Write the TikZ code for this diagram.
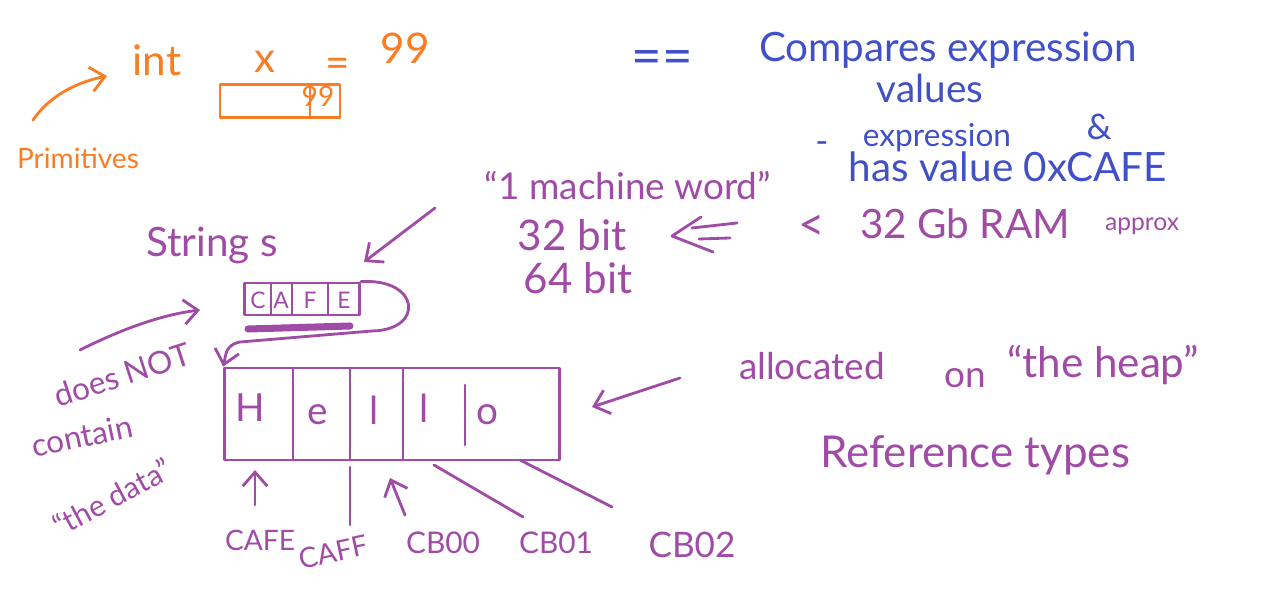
\documentclass[tikz,border=0pt]{standalone}
\usepackage{fontspec}
\setmainfont{Lato}
\usetikzlibrary{arrows.meta}
\definecolor{ora}{RGB}{250,125,35}
\definecolor{blu}{RGB}{64,80,200}
\definecolor{pur}{RGB}{160,75,165}
\begin{document}
\begin{tikzpicture}[x=0.02cm,y=-0.02cm,
  pen/.style={line width=1.6pt,line cap=round,line join=round},
  tip/.style={-{Straight Barb[length=8pt,width=14pt]}},
  txt/.style={inner sep=0pt,font=\fontsize{#1}{#1}\selectfont},
  cell/.style={draw,pen,inner sep=0pt}]
\useasboundingbox (0,0) rectangle (1268,590);
% ---------- orange : primitives ----------
\begin{scope}[ora]
\node[txt=24] (int) at (157,60) {int};
\node[txt=24] (xv) at (265,62) {x};
\node[txt=24] (eq) at (338,68) {=};
\node[txt=24] (n99) at (405,48) {99};
\node[cell,minimum width=2.4cm,minimum height=0.66cm] (xbox) at (280,101) {};
\draw[pen] (310,85) -- (310,118);
\node[txt=16] (v99) at (318,96) {99};
\node[txt=16] (prim) at (78,158) {Primitives};
\coordinate (pa) at (33,120);
\coordinate (pb) at (107,76);
\draw[pen,tip] (pa) .. controls (50,95) and (78,82) .. (pb);
\end{scope}
% ---------- blue ----------
\begin{scope}[blu]
\node[txt=30] (eqeq) at (662,63) {==};
\node[txt=23] (comp) at (948,50) {Compares expression};
\node[txt=22] (vals) at (930,88) {values};
\node[txt=18] (expr) at (937,138) {expression};
\node[txt=20] (amp) at (1099,127) {\&};
\node[txt=20] (dash) at (822,148) {-};
\node[txt=23] (has) at (1008,167) {has value 0xCAFE};
\end{scope}
% ---------- purple ----------
\begin{scope}[pur]
\node[txt=21] (mw) at (628,186) {``1 machine word''};
\node[txt=24] (b32) at (572,235) {32 bit};
\node[txt=24] (b64) at (578,278) {64 bit};
\draw[pen] (701,217) -- (672,236) -- (713,252);
\draw[pen] (692,228) -- (737,223);
\draw[pen] (699,239) -- (730,238);
\node[txt=26] (lt) at (812,228) {<};
\node[txt=23] (ram) at (965,224) {32 Gb RAM};
\node[txt=14] (approx) at (1142,226) {approx};
\node[txt=23] (str) at (212,245) {String s};
\coordinate (sa) at (435,208);
\coordinate (sb) at (364,262);
\draw[pen,tip] (sa) -- (sb);
% pointer box
\node[cell,minimum width=2.3cm,minimum height=0.64cm] (cafe) at (302,299) {};
\draw[pen] (271,283) -- (271,315) (292,283) -- (292,315) (328,283) -- (328,315);
\node[txt=13] (cC) at (258,300) {C};
\node[txt=13] (cA) at (281,300) {A};
\node[txt=13] (cF) at (310,300) {F};
\node[txt=13] (cE) at (344,300) {E};
\draw[line width=4pt,line cap=round] (248,329) -- (350,326);
% heap box
\node[cell,minimum width=6.7cm,minimum height=1.84cm] (heap) at (392,414) {};
\draw[pen] (293,368) -- (293,460) (350,368) -- (350,460) (403,368) -- (403,460) (465,385) -- (465,445);
\node[txt=22] (hH) at (250,408) {H};
\node[txt=22] (he) at (318,415) {e};
\node[txt=22] (hl1) at (374,410) {l};
\node[txt=22] (hl2) at (424,408) {l};
\node[txt=22] (ho) at (487,415) {o};
\draw[pen,tip] (cafe.north east) .. controls (420,278) and (425,330) .. (372,331) -- (240,342) .. controls (225,345) and (226,355) .. (heap.north west);
% addresses
\node[txt=16] (l1) at (260,540) {CAFE};
\node[txt=16,rotate=12] (l2) at (333,552) {CAFF};
\node[txt=17] (l3) at (443,543) {CB00};
\node[txt=17] (l4) at (556,543) {CB01};
\node[txt=20] (l5) at (692,545) {CB02};
\coordinate (a1) at (255,505); \coordinate (b1) at (255,470);
\coordinate (a2) at (350,525); \coordinate (b2) at (350,467);
\coordinate (a3) at (405,515); \coordinate (b3) at (390,478);
\coordinate (a4) at (523,517); \coordinate (b4) at (434,465);
\coordinate (a5) at (612,507); \coordinate (b5) at (520,460);
\draw[pen,tip] (a1) -- (b1);
\draw[pen] (a2) -- (b2);
\draw[pen,tip] (a3) -- (b3);
\draw[pen] (a4) -- (b4);
\draw[pen] (a5) -- (b5);
% left notes
\node[txt=18,rotate=18] (dn) at (122,375) {does NOT};
\node[txt=18,rotate=12] (cont) at (82,436) {contain};
\node[txt=17,rotate=28] (data) at (112,497) {``the data''};
\coordinate (da) at (80,350);
\coordinate (db) at (200,310);
\draw[pen,tip] (da) .. controls (120,330) and (160,315) .. (db);
% right notes
\coordinate (ra) at (680,378);
\coordinate (rb) at (592,407);
\draw[pen,tip] (ra) -- (rb);
\node[txt=21] (alloc) at (812,366) {allocated};
\node[txt=21] (on) at (965,378) {on};
\node[txt=24] (theheap) at (1103,365) {``the heap''};
\node[txt=25] (ref) at (975,455) {Reference types};
\end{scope}
\end{tikzpicture}
\end{document}
